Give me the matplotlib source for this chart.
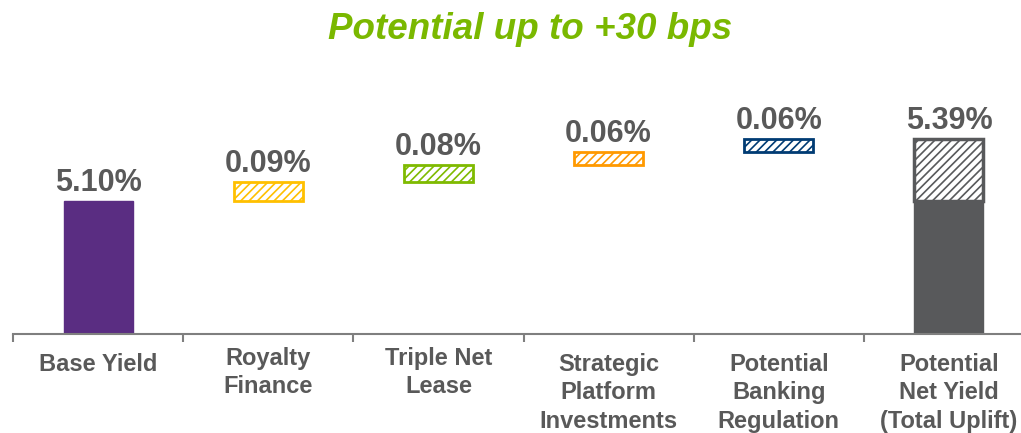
import matplotlib
matplotlib.use("Agg")
import matplotlib.pyplot as plt

# Data
categories = ["Base Yield", "Royalty\nFinance", "Triple Net\nLease",
              "Strategic\nPlatform\nInvestments", "Potential\nBanking\nRegulation",
              "Potential\nNet Yield\n(Total Uplift)"]
base_yield = 5.10
uplifts = [0.09, 0.08, 0.06, 0.06]
total_yield = 5.39
value_labels = ["5.10%", "0.09%", "0.08%", "0.06%", "0.06%", "5.39%"]

# label offset below axis (px) - labels are not all aligned in the source
label_drop = [19, 13, 13, 19, 19, 19]

purple = "#5A2D82"
uplift_colors = ["#FFC000", "#7FBA00", "#FF9900", "#003B73"]
grey = "#58595B"
text_grey = "#595959"
green = "#7AB800"

plt.rcParams["font.family"] = ["Liberation Sans", "DejaVu Sans"]
plt.rcParams["hatch.linewidth"] = 1.2

fig = plt.figure(figsize=(10.21, 4.33), dpi=100)
ax = fig.add_axes([13 / 1021, 99 / 433, 1021 / 1021, 274 / 433])

w = 0.405
ax.bar(0, base_yield, width=w, color=purple, edgecolor=purple, linewidth=1)

bottom = base_yield
for i, (v, c) in enumerate(zip(uplifts, uplift_colors), start=1):
    ax.bar(i, v, bottom=bottom, width=w, facecolor="white", edgecolor=c,
           hatch="////", linewidth=2)
    bottom += v

# total: solid base + hatched uplift
ax.bar(5, base_yield, width=w, color=grey, edgecolor=grey, linewidth=1)
ax.bar(5, total_yield - base_yield, bottom=base_yield, width=w,
       facecolor="white", edgecolor=grey, hatch="////", linewidth=2.5)

tops = [base_yield]
run = base_yield
for v in uplifts:
    run += v
    tops.append(run)
tops.append(total_yield)
for i, (t, lab) in enumerate(zip(tops, value_labels)):
    ax.annotate(lab, xy=(i, t), xytext=(0, 7), textcoords="offset points",
                ha="center", va="baseline", fontsize=22, fontweight="bold",
                color=text_grey)

for i, (lab, d) in enumerate(zip(categories, label_drop)):
    ax.annotate(lab, xy=(i, 0), xycoords=("data", "axes fraction"),
                xytext=(0, -d * 0.72), textcoords="offset points",
                ha="center", va="top", fontsize=17, fontweight="bold",
                color=text_grey, linespacing=1.3)

ax.set_xlim(-0.5, 5.5)
ax.set_ylim(4.478, 5.76)
for s in ["top", "right", "left"]:
    ax.spines[s].set_visible(False)
ax.spines["bottom"].set_color("#7F7F7F")
ax.spines["bottom"].set_linewidth(1.5)
ax.set_yticks([])
ax.set_xticks([x - 0.5 for x in range(7)])
ax.set_xticklabels([])
ax.tick_params(axis="x", direction="out", length=6, width=1.5, color="#7F7F7F")

fig.text(530 / 1021, 1 - 39 / 433, "Potential up to +30 bps", ha="center",
         va="baseline", fontsize=26.5, fontweight="bold", fontstyle="italic",
         color=green)

fig.savefig("out.png", dpi=100)
